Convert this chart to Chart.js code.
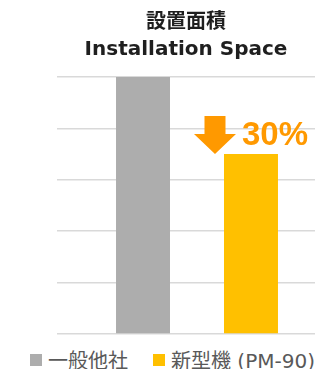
<!DOCTYPE html>
<html>
<head>
<meta charset="utf-8">
<script src="https://cdn.jsdelivr.net/npm/chart.js@4/dist/chart.umd.min.js"></script>
<style>
html,body{margin:0;padding:0;background:#fff;overflow:hidden;}
#page{position:relative;width:315px;height:369px;overflow:hidden;}
#wrap{width:315px;height:336px;}
#legend{position:absolute;left:0;top:336px;width:315px;height:33px;overflow:hidden;}
#legend ul{list-style:none;margin:0;padding:0 0 0 30px;display:flex;align-items:center;height:47px;white-space:nowrap;}
#legend li{display:flex;align-items:center;font-family:'DejaVu Sans','Noto Sans CJK JP',sans-serif;font-size:20px;color:#595959;}
#legend li + li{margin-left:25px;}
#legend span.box{display:inline-block;width:12px;height:12px;margin-right:6px;}
</style>
</head>
<body>
<div id="page">
<div id="wrap"><canvas id="spaceChart"></canvas></div>
<div id="legend"></div>
</div>
<script>
const categories = ['設置面積']
const seriesNames = ['一般他社', '新型機 (PM-90)']
const seriesValues = [[100], [70]]
const seriesColors = ['#ADADAD', '#FFC000']
const titleLines = ['設置面積', 'Installation Space']
const yTicks = [0, 20, 40, 60, 80, 100]

const FONT = "'DejaVu Sans', 'Noto Sans CJK JP', sans-serif"

// reduction label computed from the two values
const reduction = Math.round((1 - seriesValues[1][0] / seriesValues[0][0]) * 100)

const arrowPlugin = {
id: 'arrowLabel',
afterDatasetsDraw(chart){
const meta = chart.getDatasetMeta(1)
const bar = meta.data[0]
if(!bar) return
const c = chart.ctx
const left = bar.x - bar.width/2
const cx = left - 9
const tip = bar.y
c.save()
c.fillStyle = '#FF9900'
c.beginPath()
c.moveTo(cx - 10.5, tip - 38)
c.lineTo(cx + 10.5, tip - 38)
c.lineTo(cx + 10.5, tip - 20)
c.lineTo(cx + 21, tip - 20)
c.lineTo(cx, tip)
c.lineTo(cx - 21, tip - 20)
c.lineTo(cx - 10.5, tip - 20)
c.closePath()
c.fill()
c.font = "bold 33px 'Liberation Sans', Arial, sans-serif"
c.textAlign = 'left'
c.textBaseline = 'alphabetic'
c.fillText(reduction + '%', left + 18, tip - 9)
c.restore()
}
}

// legend built from the chart's own datasets
const htmlLegend = {
id: 'htmlLegend',
afterUpdate(chart){
const box = document.getElementById('legend')
box.innerHTML = ''
const ul = document.createElement('ul')
chart.data.datasets.forEach(ds => {
const li = document.createElement('li')
const sw = document.createElement('span')
sw.className = 'box'
sw.style.background = ds.backgroundColor
li.appendChild(sw)
li.appendChild(document.createTextNode(ds.label))
ul.appendChild(li)
})
box.appendChild(ul)
}
}

new Chart(document.getElementById('spaceChart'), {
type: 'bar',
data: {
labels: categories,
datasets: seriesNames.map((name, i) => ({
label: name,
data: seriesValues[i],
backgroundColor: seriesColors[i],
borderWidth: 0,
categoryPercentage: 0.915,
barPercentage: 0.5
}))
},
options: {
responsive: true,
maintainAspectRatio: false,
animation: false,
layout: { padding: { left: 57, right: 0, top: 0, bottom: 2 } },
plugins: {
title: {
display: true,
text: titleLines,
color: '#1F1F1F',
font: { family: FONT, size: 20, weight: 'bold', lineHeight: 1.35 },
padding: { top: 9, bottom: 14 }
},
legend: { display: false },
tooltip: { enabled: false }
},
scales: {
x: { display: false },
y: {
min: yTicks[0],
max: yTicks[yTicks.length - 1],
afterBuildTicks(scale){ scale.ticks = yTicks.map(v => ({ value: v })) },
border: { display: false },
ticks: { display: false },
grid: { color: '#D9D9D9', lineWidth: 1.5, tickLength: 22, drawTicks: true }
}
}
},
plugins: [arrowPlugin, htmlLegend]
})
</script>
</body>
</html>
